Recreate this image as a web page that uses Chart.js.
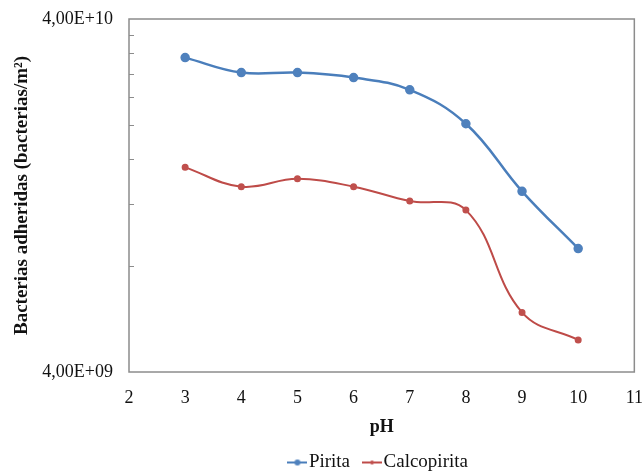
<!DOCTYPE html>
<html>
<head>
<meta charset="utf-8">
<script src="https://cdn.jsdelivr.net/npm/chart.js@4/dist/chart.umd.min.js"></script>
<style>
  html, body { margin: 0; padding: 0; background: #fff; }
  #wrap { width: 643px; height: 473px; }
</style>
</head>
<body>
<div id="wrap"><canvas id="c" width="643" height="473"></canvas></div>
<script>
// pH values and adhered bacteria (bacterias/m²) for each mineral
const phValues = [3, 4, 5, 6, 7, 8, 9, 10];
const pirita = [3.11e10, 2.82e10, 2.82e10, 2.73e10, 2.52e10, 2.02e10, 1.30e10, 8.95e9];
const calcopirita = [1.52e10, 1.34e10, 1.41e10, 1.34e10, 1.22e10, 1.15e10, 5.9e9, 4.93e9];

// Axis ticks
const yTickValues = [4e9, 4e10];
const yTickLabels = ['4,00E+09', '4,00E+10'];
const yMinorTicks = [8e9, 1.2e10, 1.6e10, 2.0e10, 2.4e10, 2.8e10, 3.2e10, 3.6e10];
const xMin = 2, xMax = 11;

const FONT = "'Liberation Serif', 'Times New Roman', serif";
const BLUE_LINE = '#4A7EBB', BLUE_PT = '#4F81BD';
const RED_LINE = '#BE4B48', RED_PT = '#C0504D';
const FRAME = '#8c8c8c';

// Legend swatch: short line with a marker in the middle
function swatch(lineColor, ptColor, r) {
  const cv = document.createElement('canvas');
  cv.width = 20; cv.height = 10;
  const g = cv.getContext('2d');
  g.strokeStyle = lineColor; g.lineWidth = 2;
  g.beginPath(); g.moveTo(0, 5); g.lineTo(20, 5); g.stroke();
  g.fillStyle = ptColor;
  g.beginPath(); g.arc(10, 5, r, 0, Math.PI * 2); g.fill();
  return cv;
}
const swatches = [swatch(BLUE_LINE, BLUE_PT, 3), swatch(RED_LINE, RED_PT, 2)];

// Plot-area frame and inner minor ticks on the value axis
const framePlugin = {
  id: 'frame',
  afterDatasetsDraw(chart) {
    const {ctx, chartArea: a, scales: {y}} = chart;
    ctx.save();
    ctx.strokeStyle = FRAME;
    ctx.lineWidth = 1.5;
    ctx.strokeRect(a.left, a.top, a.right - a.left, a.bottom - a.top);
    ctx.lineWidth = 1;
    ctx.beginPath();
    yMinorTicks.forEach(v => {
      const py = Math.round(y.getPixelForValue(v)) + 0.5;
      ctx.moveTo(a.left, py);
      ctx.lineTo(a.left + 5, py);
    });
    ctx.stroke();
    ctx.restore();
  }
};

new Chart(document.getElementById('c'), {
  type: 'line',
  data: {
    datasets: [
      {
        label: 'Pirita',
        data: phValues.map((x, i) => ({x, y: pirita[i]})),
        borderColor: BLUE_LINE,
        backgroundColor: BLUE_PT,
        pointBackgroundColor: BLUE_PT,
        pointBorderColor: BLUE_PT,
        borderWidth: 2.5,
        pointRadius: 3.5,
        pointStyle: 'circle',
        tension: 0.4
      },
      {
        label: 'Calcopirita',
        data: phValues.map((x, i) => ({x, y: calcopirita[i]})),
        borderColor: RED_LINE,
        backgroundColor: RED_PT,
        pointBackgroundColor: RED_PT,
        pointBorderColor: RED_PT,
        borderWidth: 2,
        pointRadius: 2.5,
        pointStyle: 'circle',
        tension: 0.4
      }
    ]
  },
  options: {
    responsive: false,
    animation: false,
    layout: { padding: { left: 0, right: 0, top: 19, bottom: -9 } },
    scales: {
      x: {
        type: 'linear',
        min: xMin, max: xMax,
        grid: { display: false, drawTicks: true, tickLength: 15 },
        border: { display: false },
        ticks: {
          stepSize: 1,
          padding: 0,
          color: '#111',
          font: { family: FONT, size: 18 }
        },
        title: {
          display: true,
          text: 'pH',
          color: '#111',
          padding: { top: 0, bottom: -5 },
          font: { family: FONT, size: 18, weight: 'bold' }
        },
        afterFit(s) { s.height = 61; }
      },
      y: {
        type: 'logarithmic',
        min: 4e9, max: 4e10,
        grid: { display: false, drawTicks: true, tickLength: 16 },
        border: { display: false },
        afterBuildTicks(s) { s.ticks = yTickValues.map(v => ({value: v})); },
        ticks: {
          padding: 0,
          color: '#111',
          font: { family: FONT, size: 18 },
          callback: (v, i) => yTickLabels[i]
        },
        title: {
          display: true,
          text: 'Bacterias adheridas (bacterias/m²)',
          color: '#111',
          padding: { top: 11, bottom: 0 },
          font: { family: FONT, size: 19, weight: 'bold' }
        },
        afterFit(s) { s.width = 129; }
      }
    },
    plugins: {
      legend: {
        position: 'bottom',
        fullSize: false,
        labels: {
          usePointStyle: true,
          pointStyleWidth: 4,
          padding: 20,
          color: '#111',
          font: { family: FONT, size: 19 },
          generateLabels(chart) {
            const items = Chart.defaults.plugins.legend.labels.generateLabels(chart);
            items.forEach((it, i) => { it.pointStyle = swatches[i]; });
            return items;
          }
        }
      },
      tooltip: { enabled: false }
    }
  },
  plugins: [framePlugin]
});
</script>
</body>
</html>
